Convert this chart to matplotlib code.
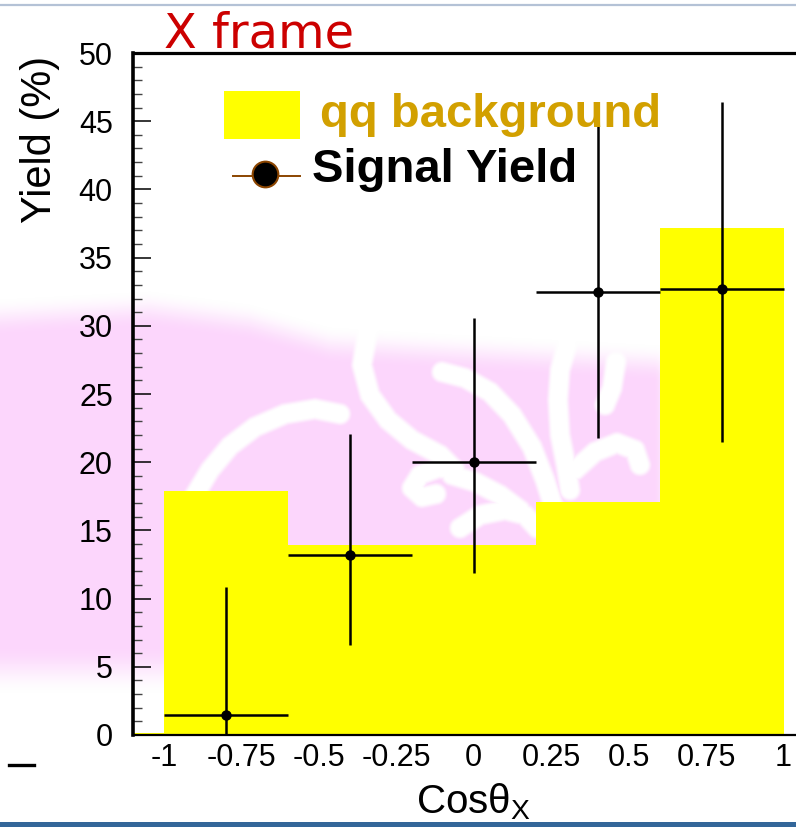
import numpy as np
import matplotlib
matplotlib.use("Agg")
import matplotlib.pyplot as plt
from matplotlib.patches import Rectangle
from matplotlib.lines import Line2D

# ---- data -------------------------------------------------------------
bin_edges = [-1.1, -1.0, -0.6, -0.2, 0.2, 0.6, 1.0]
qq_background = [0.15, 17.9, 13.9, 13.9, 17.1, 37.2]

signal_x = [-0.8, -0.4, 0.0, 0.4, 0.8]
signal_xerr = [0.2, 0.2, 0.2, 0.2, 0.2]
signal_yield = [1.5, 13.2, 20.05, 32.5, 32.7]
signal_err_low = [7.0, 6.6, 8.2, 10.75, 11.2]
signal_err_high = [9.35, 8.9, 10.5, 12.95, 13.7]

x_ticks = [-1, -0.75, -0.5, -0.25, 0, 0.25, 0.5, 0.75, 1]
x_tick_labels = ["-1", "-0.75", "-0.5", "-0.25", "0", "0.25", "0.5", "0.75", "1"]
y_ticks = [0, 5, 10, 15, 20, 25, 30, 35, 40, 45, 50]

# ---- figure ------------------------------------------------------------
W, H = 796, 827
fig = plt.figure(figsize=(W / 100, H / 100), dpi=100)
fig.patch.set_facecolor("white")
plt.rcParams["font.family"] = ["Liberation Sans", "DejaVu Sans"]


def fx(px):
    return px / W


def fy(py):
    return 1 - py / H


# ---- soft pink slide backdrop with white swirls -------------------------
def smooth(v):
    v = np.clip(v, 0, 1)
    return v * v * (3 - 2 * v)


yy, xx = np.mgrid[0:H, 0:W] + 0.5
top_x = [0, 150, 250, 330, 450, 550, 680]
top_y = [298, 290, 303, 326, 333, 338, 345]
top = np.interp(xx, top_x, top_y)
alpha = smooth((yy - top) / 38) * smooth((695 - yy) / 50) * smooth((672 - xx) / 18)

swirls = [
    [(195, 495), (210, 470), (230, 446), (255, 427), (285, 414), (315, 409), (340, 414)],
    [(368, 330), (362, 365), (370, 395), (388, 420), (412, 440), (440, 455), (455, 470),
     (438, 468), (420, 475), (412, 488), (422, 497), (436, 494)],
    [(442, 372), (465, 378), (490, 392), (512, 415), (532, 447), (545, 480), (553, 505)],
    [(567, 345), (560, 370), (558, 400), (560, 435), (566, 465), (570, 490)],
    [(575, 470), (595, 452), (617, 443), (635, 450), (640, 465)],
    [(616, 362), (612, 388), (605, 405)],
    [(460, 528), (480, 515), (505, 510), (525, 515), (537, 528)],
    [(452, 475), (475, 482), (500, 495), (520, 510)],
]
dmin = np.full((H, W), 1e9)
for path in swirls:
    for (x0, y0), (x1, y1) in zip(path[:-1], path[1:]):
        dx, dy = x1 - x0, y1 - y0
        t = np.clip(((xx - x0) * dx + (yy - y0) * dy) / (dx * dx + dy * dy), 0, 1)
        d = np.hypot(xx - (x0 + t * dx), yy - (y0 + t * dy))
        dmin = np.minimum(dmin, d)
white = smooth((13 - dmin) / 6)
alpha = alpha * (1 - white)

rgba = np.ones((H, W, 4))
rgba[..., 0] = 252 / 255
rgba[..., 1] = 214 / 255
rgba[..., 2] = 252 / 255
rgba[..., 3] = alpha

bg = fig.add_axes([0, 0, 1, 1], zorder=0)
bg.imshow(rgba, extent=(0, W, H, 0), interpolation="nearest", aspect="auto")
bg.set_xlim(0, W)
bg.set_ylim(H, 0)
bg.axis("off")

# slide chrome
fig.add_artist(Line2D([0, 1], [fy(5), fy(5)], color="#b4c2d6", lw=1.6))
fig.add_artist(Rectangle((0, 0), 1, fy(822), transform=fig.transFigure,
                         facecolor="#336699", edgecolor="none"))
fig.add_artist(Line2D([fx(9), fx(34)], [fy(765), fy(765)], color="black", lw=2.4))

# ---- main axes ----------------------------------------------------------
ax_left, ax_right, ax_top, ax_bottom = 133, 796, 53, 735
ax = fig.add_axes([fx(ax_left), fy(ax_bottom), fx(ax_right - ax_left),
                   (ax_bottom - ax_top) / H], zorder=1)
ax.set_facecolor("none")
ax.set_xlim(-1.1, 1.04)
ax.set_ylim(0, 50)

widths = np.diff(bin_edges)
ax.bar(bin_edges[:-1], qq_background, width=widths, align="edge",
       color="#ffff00", edgecolor="none", zorder=2)

ax.errorbar(signal_x, signal_yield, xerr=signal_xerr,
            yerr=[signal_err_low, signal_err_high], fmt="o", color="black",
            ms=6.5, elinewidth=1.8, capsize=0, zorder=3)

ax.spines["right"].set_visible(False)
ax.spines["left"].set_linewidth(2.6)
ax.spines["top"].set_linewidth(2.3)
ax.spines["bottom"].set_linewidth(1.6)
for s in ax.spines.values():
    s.set_zorder(4)

ax.set_xticks(x_ticks)
ax.set_xticklabels(x_tick_labels)
ax.set_yticks(y_ticks)
ax.set_yticks(np.arange(0, 51, 1), minor=True)
ax.tick_params(axis="x", length=0, labelsize=22, pad=6)
ax.tick_params(axis="y", which="major", direction="in", length=13, width=1.1,
               labelsize=22, pad=14.5, colors="black")
ax.tick_params(axis="y", which="minor", direction="in", length=6.5, width=1.0,
               color="#444444")

# ---- texts ---------------------------------------------------------------
fig.text(fx(164), fy(47), "X frame", color="#cc0000", fontsize=34.5,
         family="DejaVu Sans", ha="left", va="baseline")
fig.text(fx(40), fy(139), "Yield (%)", rotation=90, fontsize=30,
         ha="center", va="center")
fig.text(fx(473), fy(813), "Cosθ$_\\mathregular{X}$", fontsize=29,
         ha="center", va="baseline")

# legend
fig.add_artist(Rectangle((fx(224), fy(139)), fx(76), (139 - 91) / H,
                         transform=fig.transFigure, facecolor="#ffff00",
                         edgecolor="none", zorder=5))
fig.text(fx(320), fy(127), "qq background", color="#d2a000", fontsize=34,
         fontweight="bold", ha="left", va="baseline", zorder=5)
fig.add_artist(Line2D([fx(233), fx(300)], [fy(176), fy(176)], color="#8b4500",
                      lw=1.4, zorder=5))
fig.add_artist(Line2D([fx(265)], [fy(174)], marker="o", ms=18.5,
                      markerfacecolor="black", markeredgecolor="#8b4500",
                      markeredgewidth=1.5, zorder=6))
fig.text(fx(312), fy(182), "Signal Yield", color="black", fontsize=34,
         fontweight="bold", ha="left", va="baseline", zorder=5)

fig.savefig("out.png", dpi=100)
